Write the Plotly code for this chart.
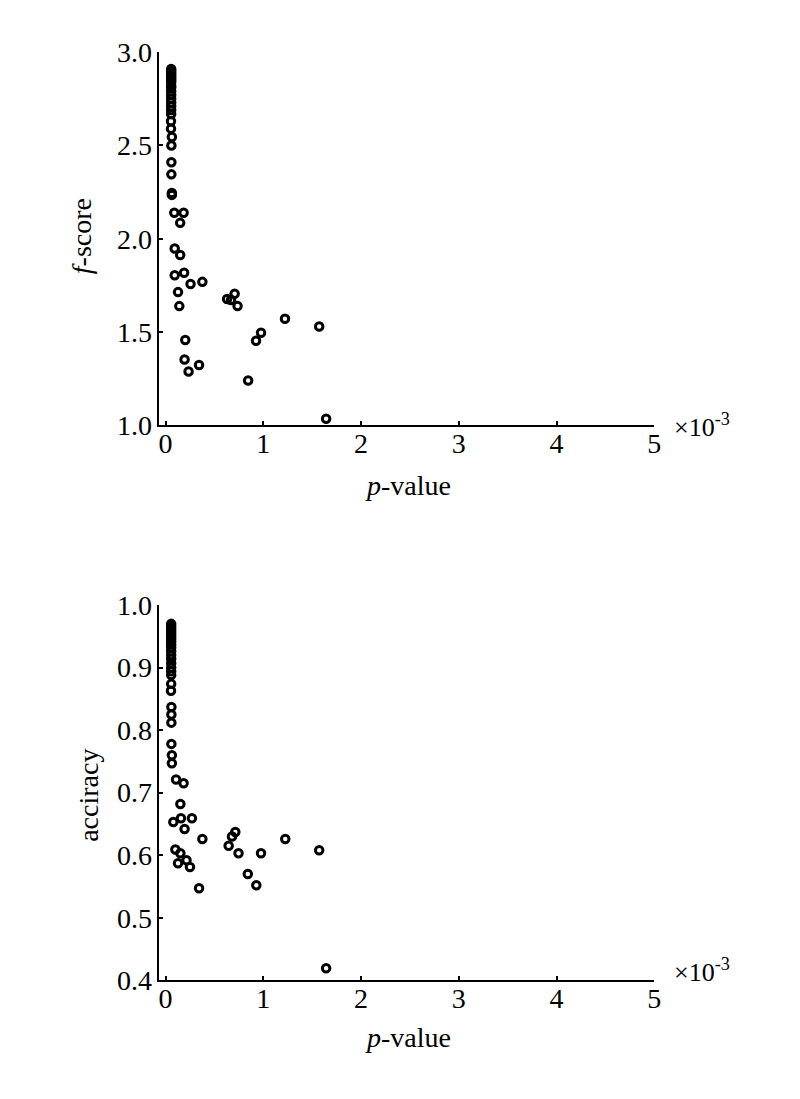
import plotly.graph_objects as go

# ---------------- data ----------------
# top panel: p-value (x10^-3) vs f-score
p_top = [0.058, 0.058, 0.058, 0.058, 0.058, 0.058, 0.058, 0.058, 0.058, 0.058,
         0.058, 0.058, 0.058, 0.058, 0.058, 0.058, 0.058, 0.056, 0.056, 0.065,
         0.06, 0.06, 0.06, 0.065, 0.065,
         0.09, 0.185, 0.15, 0.094, 0.15, 0.094, 0.19, 0.256, 0.377, 0.128,
         0.141, 0.63, 0.67, 0.707, 0.737, 0.202, 0.195, 0.236, 0.343, 0.845,
         0.926, 0.977, 1.222, 1.572, 1.643]
f_score = [2.91, 2.90, 2.89, 2.88, 2.87, 2.86, 2.85, 2.84, 2.82, 2.81,
           2.79, 2.77, 2.75, 2.73, 2.71, 2.69, 2.668, 2.63, 2.59, 2.545,
           2.50, 2.41, 2.345, 2.245, 2.235,
           2.139, 2.139, 2.085, 1.948, 1.913, 1.804, 1.818, 1.757, 1.769, 1.714,
           1.639, 1.677, 1.672, 1.705, 1.639, 1.457, 1.353, 1.288, 1.323, 1.24,
           1.453, 1.496, 1.571, 1.53, 1.035]

# bottom panel: p-value (x10^-3) vs accuracy
p_bot = [0.058, 0.058, 0.058, 0.058, 0.058, 0.058, 0.058, 0.058, 0.058, 0.058,
         0.058, 0.058, 0.058, 0.058, 0.058, 0.058, 0.058, 0.058, 0.056, 0.06,
         0.06, 0.06, 0.06, 0.065, 0.065,
         0.108, 0.185, 0.152, 0.08, 0.158, 0.27, 0.195, 0.377, 0.101, 0.152,
         0.128, 0.215, 0.25, 0.343, 0.646, 0.68, 0.714, 0.747, 0.842, 0.929,
         0.977, 1.225, 1.572, 1.643]
accuracy = [0.97, 0.966, 0.962, 0.958, 0.954, 0.95, 0.946, 0.942, 0.937, 0.932,
            0.926, 0.92, 0.914, 0.907, 0.90, 0.894, 0.888, 0.874, 0.863, 0.837,
            0.825, 0.812, 0.778, 0.76, 0.747,
            0.721, 0.715, 0.682, 0.653, 0.659, 0.659, 0.642, 0.626, 0.609, 0.603,
            0.587, 0.592, 0.581, 0.547, 0.615, 0.63, 0.637, 0.603, 0.57, 0.552,
            0.603, 0.626, 0.608, 0.419]

x_ticks = [0, 1, 2, 3, 4, 5]
x_ticklabels = ["0", "1", "2", "3", "4", "5"]
f_ticks = [1.0, 1.5, 2.0, 2.5, 3.0]
f_ticklabels = ["1.0", "1.5", "2.0", "2.5", "3.0"]
acc_ticks = [0.4, 0.5, 0.6, 0.7, 0.8, 0.9, 1.0]
acc_ticklabels = ["0.4", "0.5", "0.6", "0.7", "0.8", "0.9", "1.0"]

# ---------------- figure ----------------
W, H = 800, 1099
OFF = 8  # page body margin: figure is drawn 8px in from the window corner
FONT = "Liberation Serif, Times New Roman, serif"
FS = 28

marker = dict(symbol="circle-open", size=7.5, color="black",
              line=dict(width=3, color="black"))

fig = go.Figure()
fig.add_trace(go.Scatter(x=p_top, y=f_score, mode="markers", marker=marker,
                         xaxis="x", yaxis="y", showlegend=False, cliponaxis=False))
fig.add_trace(go.Scatter(x=p_bot, y=accuracy, mode="markers", marker=marker,
                         xaxis="x2", yaxis="y2", showlegend=False, cliponaxis=False))

def px_x(px):
    return (px - OFF) / W

def px_y(py):
    return 1 - (py - OFF) / H

axis_common = dict(showline=True, linecolor="black", linewidth=2,
                   ticks="inside", ticklen=4, tickwidth=1.5, tickcolor="black",
                   showgrid=False, zeroline=False,
                   tickfont=dict(family=FONT, size=FS, color="black"))

fig.update_layout(
    width=W, height=H,
    margin=dict(l=0, r=0, t=0, b=0),
    paper_bgcolor="white", plot_bgcolor="white",
    font=dict(family=FONT, size=FS, color="black"),
    xaxis=dict(domain=[px_x(160), px_x(660)], range=[-0.07, 5],
               tickvals=x_ticks, ticktext=x_ticklabels, anchor="y",
               ticklabelstandoff=-8, **axis_common),
    yaxis=dict(domain=[px_y(422), px_y(38)], range=[1.0, 3.0],
               tickvals=f_ticks, ticktext=f_ticklabels, anchor="x",
               ticklabelstandoff=-1, **axis_common),
    xaxis2=dict(domain=[px_x(160), px_x(660)], range=[-0.07, 5],
                tickvals=x_ticks, ticktext=x_ticklabels, anchor="y2",
                ticklabelstandoff=-8, **axis_common),
    yaxis2=dict(domain=[px_y(993), px_y(607)], range=[0.4, 1.0],
                tickvals=acc_ticks, ticktext=acc_ticklabels, anchor="x2",
                ticklabelstandoff=-1, **axis_common),
)

ann_font = dict(family=FONT, size=FS, color="black")
annotations = [
    dict(text="<i>f</i>-score", x=px_x(82), y=px_y(227), textangle=-90),
    dict(text="acciracy", x=px_x(89), y=px_y(803), textangle=-90),
    dict(text="<i>p</i>-value", x=px_x(412), y=px_y(484)),
    dict(text="<i>p</i>-value", x=px_x(412), y=px_y(1052)),
]
for a in annotations:
    fig.add_annotation(xref="paper", yref="paper", showarrow=False,
                       xanchor="center", yanchor="middle", font=ann_font, **a)
for yy in (422, 983):
    fig.add_annotation(text="×10<sup>-3</sup>", xref="paper", yref="paper",
                       x=px_x(678), y=px_y(yy), xanchor="left", yanchor="middle",
                       showarrow=False, font=dict(family=FONT, size=26, color="black"))

fig.write_html("out.html")
